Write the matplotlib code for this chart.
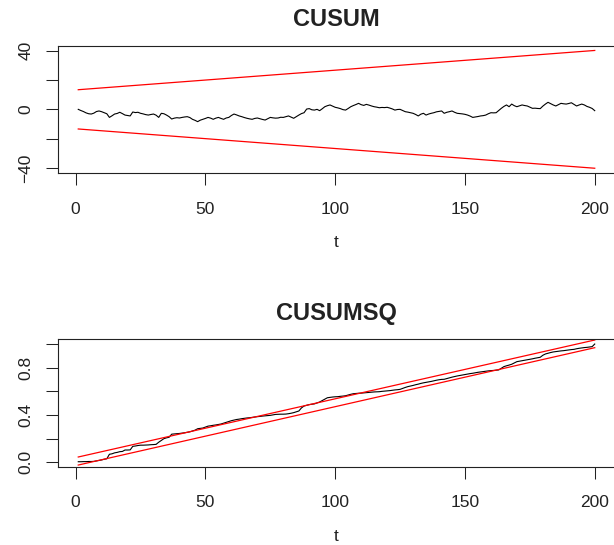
import matplotlib
matplotlib.use("Agg")
import matplotlib.pyplot as plt
import numpy as np

plt.rcParams['font.family'] = ['Liberation Sans', 'DejaVu Sans']

# recursive residual cumulative sums, t = 1..200
cusum = [
    0.0, -0.8, -1.5, -2.4, -3.0, -3.2, -2.6, -1.5, -1.1, -1.6,
    -2.3, -3.0, -5.5, -4.4, -3.2, -2.8, -2.0, -2.9, -3.9, -4.2,
    -4.5, -1.8, -2.2, -2.0, -2.7, -3.1, -3.6, -3.9, -3.5, -3.2,
    -4.0, -5.5, -2.7, -3.0, -3.9, -5.0, -6.6, -6.0, -5.7, -5.9,
    -5.5, -5.2, -5.0, -5.6, -6.8, -7.5, -8.4, -7.4, -6.8, -6.2,
    -5.5, -6.0, -6.8, -6.0, -5.5, -6.2, -6.8, -5.9, -5.5, -4.2,
    -3.2, -3.8, -4.5, -5.0, -5.6, -6.1, -6.5, -6.8, -6.2, -5.9,
    -6.4, -6.9, -7.3, -6.4, -5.5, -5.8, -6.0, -5.9, -5.4, -5.5,
    -5.0, -4.5, -5.3, -6.1, -5.0, -3.9, -2.9, -2.3, 0.2, 0.5,
    -0.3, -0.5, 0.0, -0.9, 0.4, 1.8, 2.5, 3.0, 2.2, 1.4,
    1.0, 0.5, -0.2, -0.5, 0.6, 1.8, 2.6, 3.3, 4.1, 3.2,
    2.7, 3.4, 2.9, 2.3, 1.8, 1.5, 1.1, 1.3, 1.2, 1.4,
    0.9, 0.3, -0.5, -0.1, 0.0, -0.8, -1.6, -1.9, -2.3, -2.7,
    -3.5, -4.5, -3.3, -2.7, -3.9, -3.2, -2.7, -2.3, -1.7, -1.4,
    -1.1, -2.7, -2.0, -1.6, -1.1, -2.0, -2.7, -2.9, -3.1, -3.4,
    -3.9, -4.6, -5.5, -5.2, -4.9, -4.5, -4.3, -3.9, -3.0, -2.3,
    -2.4, -2.3, -0.8, 0.7, 2.0, 3.0, 1.8, 3.6, 2.5, 1.8,
    2.4, 3.0, 2.6, 2.3, 1.5, 0.7, 0.8, 0.6, 0.5, 2.2,
    3.6, 4.8, 3.9, 3.0, 2.3, 3.2, 4.1, 3.8, 3.6, 4.0,
    4.5, 3.4, 2.3, 3.0, 3.6, 3.0, 2.0, 1.4, 0.6, -0.9,
]

# cumulative sums of squares, normalised
cusumsq = [
    0.005, 0.005, 0.006, 0.006, 0.007, 0.007, 0.008, 0.012, 0.016, 0.020,
    0.026, 0.030, 0.068, 0.072, 0.080, 0.084, 0.090, 0.092, 0.104, 0.104,
    0.105, 0.135, 0.138, 0.142, 0.145, 0.145, 0.146, 0.147, 0.149, 0.150,
    0.152, 0.170, 0.185, 0.200, 0.207, 0.212, 0.238, 0.240, 0.242, 0.244,
    0.247, 0.250, 0.254, 0.258, 0.265, 0.272, 0.284, 0.287, 0.290, 0.298,
    0.306, 0.309, 0.313, 0.316, 0.320, 0.324, 0.331, 0.338, 0.345, 0.352,
    0.357, 0.362, 0.365, 0.369, 0.372, 0.375, 0.377, 0.380, 0.383, 0.386,
    0.388, 0.391, 0.393, 0.395, 0.397, 0.401, 0.405, 0.406, 0.407, 0.407,
    0.408, 0.411, 0.415, 0.420, 0.427, 0.434, 0.460, 0.476, 0.482, 0.488,
    0.491, 0.494, 0.502, 0.510, 0.522, 0.534, 0.546, 0.549, 0.552, 0.554,
    0.555, 0.558, 0.560, 0.563, 0.569, 0.575, 0.580, 0.582, 0.584, 0.585,
    0.587, 0.589, 0.591, 0.593, 0.595, 0.596, 0.597, 0.600, 0.602, 0.604,
    0.606, 0.609, 0.612, 0.614, 0.617, 0.625, 0.633, 0.640, 0.645, 0.650,
    0.656, 0.661, 0.667, 0.672, 0.676, 0.680, 0.684, 0.689, 0.694, 0.698,
    0.701, 0.702, 0.708, 0.714, 0.720, 0.725, 0.730, 0.734, 0.738, 0.742,
    0.746, 0.750, 0.753, 0.757, 0.761, 0.764, 0.767, 0.770, 0.773, 0.775,
    0.777, 0.779, 0.781, 0.795, 0.809, 0.816, 0.822, 0.829, 0.840, 0.851,
    0.855, 0.859, 0.863, 0.867, 0.871, 0.875, 0.880, 0.884, 0.888, 0.905,
    0.916, 0.922, 0.928, 0.933, 0.936, 0.939, 0.942, 0.944, 0.947, 0.950,
    0.953, 0.955, 0.960, 0.964, 0.967, 0.970, 0.972, 0.975, 0.978, 1.000,
]

t = np.arange(1, len(cusum) + 1)

# 5% significance bounds (straight lines from t=1 to t=200)
bound_t = [1, 200]
cusum_upper = [13.4, 40.2]
cusum_lower = [-13.4, -40.2]
sq_upper = [0.045, 1.034]
sq_lower = [-0.023, 0.969]

W, H = 614, 545
fig = plt.figure(figsize=(W / 100, H / 100), dpi=100)

left = 57.6 / W
width = (615.4 - 57.6) / W
ax1 = fig.add_axes([left, 1 - 173 / H, width, (173 - 45.7) / H])
ax2 = fig.add_axes([left, 1 - 466.7 / H, width, (466.7 - 339.3) / H])


def r_style(ax, title, yticks, ylabels, ylim):
    ax.set_xlim(-6.96, 207.96)
    ax.set_ylim(*ylim)
    ax.set_xticks([0, 50, 100, 150, 200])
    ax.set_xticklabels(['0', '50', '100', '150', '200'])
    ax.set_yticks(yticks)
    ax.set_yticklabels(ylabels)
    ax.tick_params(axis='both', direction='out', length=8.6, width=0.75,
                   labelsize=12.5, colors='#222222')
    ax.tick_params(axis='x', pad=12)
    ax.tick_params(axis='y', pad=8.8, labelrotation=90)
    for lab in ax.get_yticklabels():
        lab.set_va('center')
    for side in ['left', 'top', 'bottom', 'right']:
        ax.spines[side].set_linewidth(0.8)
        ax.spines[side].set_color('#222222')
    ax.set_xlabel('t', fontsize=12.5, labelpad=13.5, color='#222222')
    ax.set_title(title, fontsize=17, fontweight='bold', pad=14,
                 color='#222222')


ax1.plot(t, cusum, color='black', lw=0.8)
ax1.plot(bound_t, cusum_upper, color='red', lw=0.9)
ax1.plot(bound_t, cusum_lower, color='red', lw=0.9)
r_style(ax1, 'CUSUM', [-40, -20, 0, 20, 40], ['\u221240', '', '0', '', '40'],
        (-43.45, 43.45))

ax2.plot(t, cusumsq, color='black', lw=0.8)
ax2.plot(bound_t, sq_upper, color='red', lw=0.9)
ax2.plot(bound_t, sq_lower, color='red', lw=0.9)
r_style(ax2, 'CUSUMSQ', [0.0, 0.2, 0.4, 0.6, 0.8, 1.0],
        ['0.0', '', '0.4', '', '0.8', ''], (-0.037, 1.040))

fig.savefig('out.png', dpi=100)
